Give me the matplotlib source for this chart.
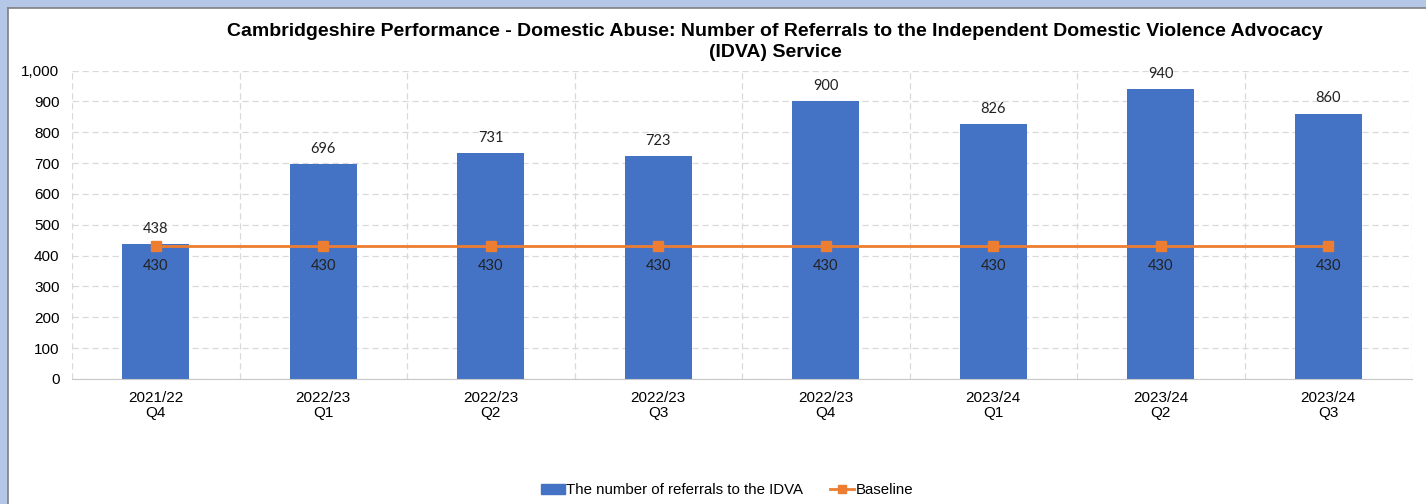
import matplotlib.pyplot as plt
from matplotlib.patches import Rectangle
from matplotlib.lines import Line2D
import numpy as np

periods = ["2021/22\nQ4", "2022/23\nQ1", "2022/23\nQ2", "2022/23\nQ3",
           "2022/23\nQ4", "2023/24\nQ1", "2023/24\nQ2", "2023/24\nQ3"]
referrals = [438, 696, 731, 723, 900, 826, 940, 860]
baseline = [430, 430, 430, 430, 430, 430, 430, 430]

title = ("Cambridgeshire Performance - Domestic Abuse: Number of Referrals to the "
         "Independent Domestic Violence Advocacy\n(IDVA) Service")

BAR_BLUE = "#4472C4"
LINE_ORANGE = "#ED7D31"
W, H = 1426, 504

plt.rcParams['font.family'] = ['Liberation Sans', 'DejaVu Sans']

fig = plt.figure(figsize=(W / 100, H / 100), dpi=100)
fig.patch.set_facecolor("#B4C7E7")

# white chart panel with a thin grey edge on the left and top
panel = Rectangle((8 / W, 0), 1 - 8 / W, 1 - 8 / H, transform=fig.transFigure,
                  facecolor="white", edgecolor="none", zorder=-5)
fig.patches.append(panel)
fig.lines.append(Line2D([7.5 / W, 7.5 / W], [0, 1 - 7.5 / H], transform=fig.transFigure,
                        color="#7F7F7F", lw=1.2, zorder=-4))
fig.lines.append(Line2D([7.5 / W, 1], [1 - 7.5 / H, 1 - 7.5 / H], transform=fig.transFigure,
                        color="#7F7F7F", lw=1.2, zorder=-4))

left, right, top, bottom = 72, 1412, 70.5, 379
ax = fig.add_axes([left / W, 1 - bottom / H, (right - left) / W, (bottom - top) / H])
ax.set_facecolor("none")
ax.set_zorder(2)

x = np.arange(len(periods))
ax.bar(x, referrals, width=0.4, color=BAR_BLUE, zorder=2)
ax.plot(x, baseline, color=LINE_ORANGE, lw=2, marker="s", markersize=7, zorder=3)

for xi, v in zip(x, referrals):
    ax.annotate(str(v), (xi, v), xytext=(0, 6), textcoords="offset points",
                ha="center", va="bottom", fontsize=10.5, family=["Lato", "DejaVu Sans"],
                color="#222222")
for xi, v in zip(x, baseline):
    ax.annotate(str(v), (xi, v), xytext=(0, -9), textcoords="offset points",
                ha="center", va="top", fontsize=10.5, family=["Lato", "DejaVu Sans"],
                color="#222222")

ax.set_xlim(-0.5, len(periods) - 0.5)
ax.set_ylim(0, 1000)
ax.set_yticks(range(0, 1001, 100))
ax.set_yticklabels([f"{t:,}" for t in range(0, 1001, 100)])
ax.set_xticks(x)
ax.set_xticklabels(periods, linespacing=1.05)
ax.tick_params(axis="both", length=0, labelsize=11, colors="#000000")
ax.tick_params(axis="y", pad=9)
ax.tick_params(axis="x", pad=9)

ax.yaxis.grid(True, color="#D9D9D9", ls=(0, (5, 3)), lw=0.9)
ax.set_axisbelow(True)
for b in np.arange(-0.5, len(periods), 1.0):
    ax.axvline(b, color="#D9D9D9", ls=(0, (5, 3)), lw=0.9, zorder=0)

for s in ["top", "left", "right"]:
    ax.spines[s].set_visible(False)
ax.spines["bottom"].set_color("#C8C8C8")

fig.text(775 / W, 1 - 23 / H, title, ha="center", va="top", fontsize=14,
         fontweight="bold", linespacing=1.3)

handles = [Rectangle((0, 0), 1, 1, color=BAR_BLUE),
           Line2D([], [], color=LINE_ORANGE, lw=2, marker="s", markersize=6)]
fig.legend(handles, ["The number of referrals to the IDVA", "Baseline"],
           loc="center", bbox_to_anchor=(727 / W, 1 - 490 / H), ncol=2, frameon=False,
           fontsize=10.8, handlelength=1.6, handletextpad=0.1, columnspacing=1.8)

fig.savefig("out.png", dpi=100, facecolor=fig.get_facecolor())
